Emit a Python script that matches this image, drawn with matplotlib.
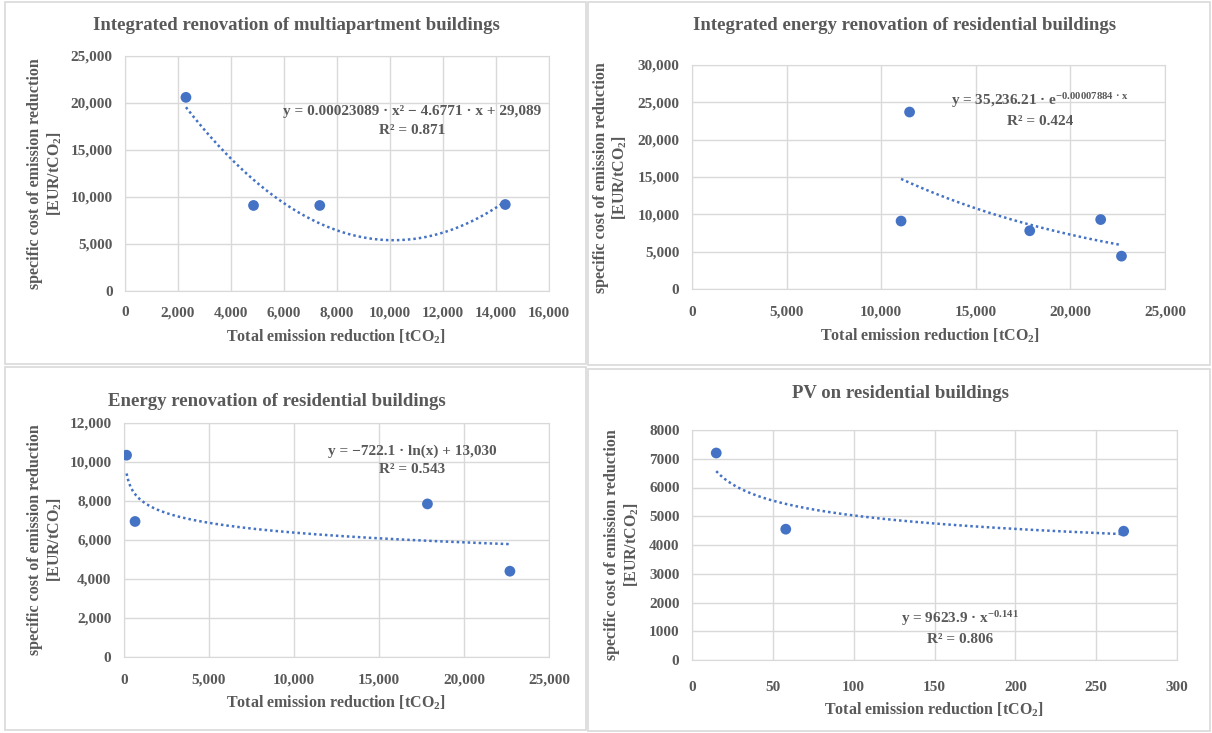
import numpy as np
import matplotlib
matplotlib.use("Agg")
from matplotlib import pyplot as plt
from matplotlib.patches import Rectangle
from matplotlib.ticker import FuncFormatter

# Data
p1_x = [2300, 4850, 7350, 14350]
p1_y = [20600, 9100, 9100, 9200]

p2_x = [11050, 11500, 17850, 21600, 22700]
p2_y = [9100, 23700, 7800, 9300, 4400]

p3_x = [150, 650, 17850, 22700]
p3_y = [10350, 6950, 7850, 4400]

p4_x = [15, 58, 267]
p4_y = [7200, 4550, 4480]

titles = ["Integrated renovation of multiapartment buildings",
          "Integrated energy renovation of residential buildings",
          "Energy renovation of residential buildings",
          "PV on residential buildings"]
eqs = ["y = 0.00023089 · x² − 4.6771 · x + 29,089\nR² = 0.871",
       r"y = 35,236.21 · e$^{−0.00007884\ ·\ x}$" + "\nR² = 0.424",
       "y = −722.1 · ln(x) + 13,030\nR² = 0.543",
       "y = 9623.9 · x$^{−0.141}$\nR² = 0.806"]

plt.rcParams['font.family'] = ['Liberation Serif', 'DejaVu Serif']
plt.rcParams['font.weight'] = 'bold'
plt.rcParams['mathtext.fontset'] = 'custom'
plt.rcParams['mathtext.rm'] = 'Liberation Serif:bold'
plt.rcParams['mathtext.it'] = 'Liberation Serif:bold'

grey = '#595959'
blue = '#4472C4'
W, H = 1212, 733

fig = plt.figure(figsize=(W / 100, H / 100), dpi=100)

def px_box(x0, y0, x1, y1):
    return [x0 / W, 1 - y1 / H, (x1 - x0) / W, (y1 - y0) / H]

# panel frames
for (x0, y0, x1, y1) in [(5, 2, 586, 364), (588, 2, 1210, 365),
                         (5, 367, 586, 730), (588, 369, 1210, 731)]:
    fig.add_artist(Rectangle((x0 / W, 1 - y1 / H), (x1 - x0) / W, (y1 - y0) / H,
                             transform=fig.transFigure, fill=False,
                             edgecolor='#d9d9d9', linewidth=1.2))

comma = FuncFormatter(lambda v, p: f"{v:,.0f}")
plain = FuncFormatter(lambda v, p: f"{v:.0f}")

def style(ax, xlim, xstep, ylim, ystep, yfmt, xpad):
    ax.set_xlim(*xlim)
    ax.set_ylim(*ylim)
    ax.set_xticks(np.arange(xlim[0], xlim[1] + 1, xstep))
    ax.set_yticks(np.arange(ylim[0], ylim[1] + 1, ystep))
    ax.xaxis.set_major_formatter(comma)
    ax.yaxis.set_major_formatter(yfmt)
    ax.grid(True, color='#d9d9d9', linewidth=1)
    ax.set_axisbelow(True)
    for s in ax.spines.values():
        s.set_color('#d9d9d9')
    ax.tick_params(length=0, labelsize=11, labelcolor=grey)
    ax.tick_params(axis='x', pad=xpad)
    ax.tick_params(axis='y', pad=9)

axes_px = [(125, 56, 549, 291), (692, 65, 1165, 289),
           (124, 423, 549, 657), (692, 430, 1177, 660)]
xpads = [11, 12, 12, 15]

data = [(p1_x, p1_y), (p2_x, p2_y), (p3_x, p3_y), (p4_x, p4_y)]
limits = [((0, 16000), 2000, (0, 25000), 5000, comma),
          ((0, 25000), 5000, (0, 30000), 5000, comma),
          ((0, 25000), 5000, (0, 12000), 2000, comma),
          ((0, 300), 50, (0, 8000), 1000, plain)]

# trendline functions as printed in the chart
fits = [lambda x: 0.00023089 * x**2 - 4.6771 * x + 29089,
        lambda x: 35236.21 * np.exp(-0.00007884 * x),
        lambda x: -722.1 * np.log(x) + 13030,
        lambda x: 9623.9 * x**-0.141]

title_pos = [(296, 25), (905, 25), (277, 402), (900, 393)]
eq_pos = [(412, 121), (1040, 110), (412, 460), (960, 628)]
ylab_pos = [(35, 55, 174), (601, 620, 178), (35, 55, 540), (612, 632, 545)]
xlab_pos = [(336, 337), (930, 336), (336, 703), (934, 710)]

for i in range(4):
    ax = fig.add_axes(px_box(*axes_px[i]))
    xl, xs, yl, ys, yf = limits[i]
    style(ax, xl, xs, yl, ys, yf, xpads[i])
    xd, yd = data[i]
    xx = np.linspace(min(xd), max(xd), 200)
    ax.plot(xx, fits[i](xx), linestyle=(0, (1, 1.2)), color=blue, linewidth=1.8)
    ax.scatter(xd, yd, s=60, color=blue, zorder=3, edgecolors='none')

    tx, ty = title_pos[i]
    fig.text(tx / W, 1 - ty / H, titles[i], ha='center', va='center',
             fontsize=13.5, color=grey, fontweight='bold')
    ex, ey = eq_pos[i]
    fig.text(ex / W, 1 - ey / H, eqs[i], ha='center', va='center',
             fontsize=11, color=grey, linespacing=1.5)
    yx1, yx2, yy = ylab_pos[i]
    fig.text(yx1 / W, 1 - yy / H, "specific cost of emission reduction",
             rotation=90, ha='center', va='center', fontsize=11.5, color=grey)
    fig.text(yx2 / W, 1 - yy / H, "[EUR/tCO$_2$]",
             rotation=90, ha='center', va='center', fontsize=11.5, color=grey)
    lx, ly = xlab_pos[i]
    fig.text(lx / W, 1 - ly / H, "Total emission reduction [tCO$_2$]",
             ha='center', va='center', fontsize=11.5, color=grey)

fig.savefig("out.png", dpi=100)
